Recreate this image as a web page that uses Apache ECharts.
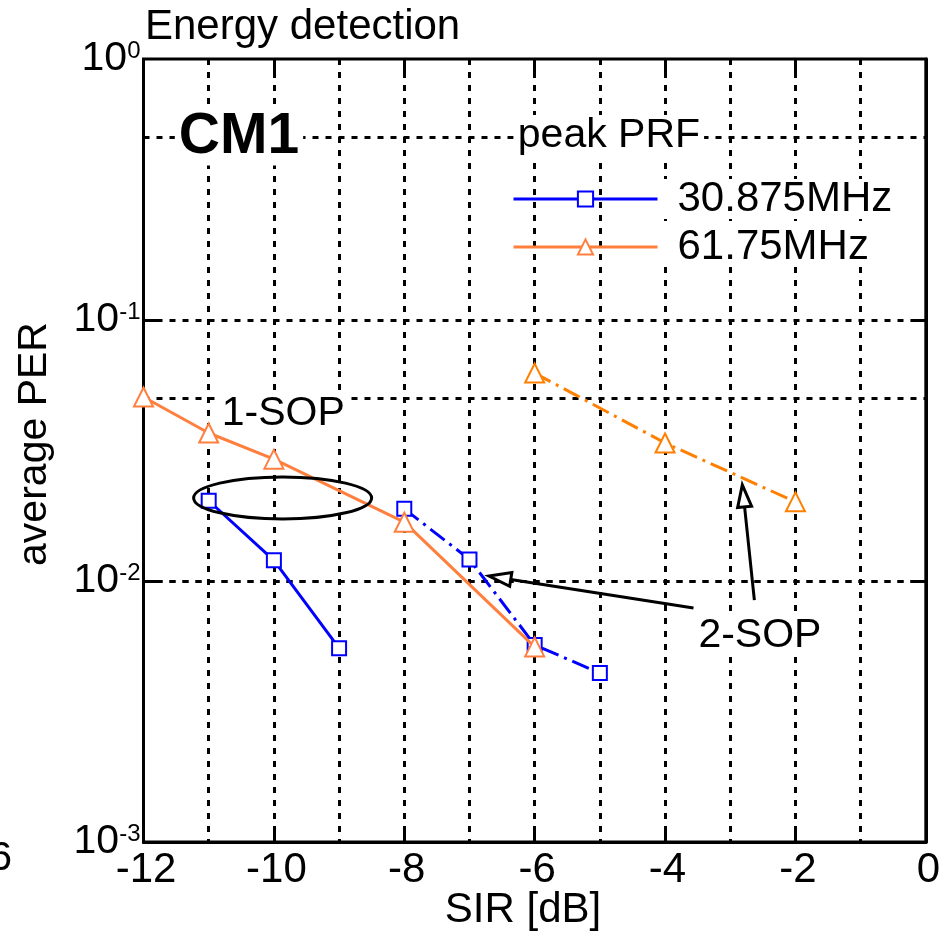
<!DOCTYPE html>
<html><head><meta charset="utf-8">
<script src="https://cdn.jsdelivr.net/npm/echarts@6/dist/echarts.min.js"></script>
<style>html,body{margin:0;padding:0;background:#fff}#c{width:943px;height:935px}</style>
</head><body><div id="c"></div>
<script>
// ---- data ----
const sirBlue1 = [-11, -10, -9];
const perBlue1 = [0.0203, 0.0120, 0.00553];
const sirBlue2 = [-8, -7, -6, -5];
const perBlue2 = [0.0189, 0.0121, 0.00569, 0.00444];
const sirOrange1 = [-12, -11, -10, -8, -6];
const perOrange1 = [0.0507, 0.0369, 0.0293, 0.0168, 0.00559];
const sirOrange2 = [-6, -4, -2];
const perOrange2 = [0.0626, 0.0338, 0.0201];
const legendNames = ['30.875MHz', '61.75MHz'];
const xTickValues = [-10, -8, -6, -4, -2];
const yTickValues = [1, 0.1, 0.01, 0.001];
const yTickSup = ['0', '-1', '-2', '-3'];
const yInnerTicks = [0.1, 0.01];
const yGridValues = [0.5, 0.1, 0.05, 0.01, 0.005];

const FONT = '"Liberation Sans", Arial, Helvetica, sans-serif';
const BLUE = '#0000FF', ORANGE1 = '#FF7F3F', ORANGE2 = '#FF8000';
const dotted = {color: '#000', width: 3, type: [6, 7]};
const dashDot = [18, 6, 3, 6];
const TICK = 15;

const zip = (xs, ys) => xs.map((x, i) => [x, ys[i]]);
const chart = echarts.init(document.getElementById('c'), null, {renderer: 'canvas'});

function supLabel(v) {
  let idx = 0, best = Infinity;
  yTickValues.forEach((t, i) => { const d = Math.abs(Math.log10(t) - Math.log10(v)); if (d < best) { best = d; idx = i; } });
  return '{b|10}{s|' + yTickSup[idx] + '}';
}

const option = {
  backgroundColor: '#fff',
  animation: false,
  textStyle: {fontFamily: FONT},
  grid: {left: 143.5, right: 15, top: 59, bottom: 93, show: true, borderColor: '#000', borderWidth: 3, containLabel: false},
  xAxis: {
    type: 'value', min: -12, max: 0, interval: 2, position: 'bottom',
    axisLine: {show: true, lineStyle: {color: '#000', width: 3}},
    axisTick: {show: false},
    axisLabel: {show: true, fontSize: 42, fontFamily: FONT, color: '#000', margin: 7, padding: [0, 0, 0, 5]},
    splitLine: {show: true, lineStyle: dotted},
    minorTick: {show: false, splitNumber: 2},
    minorSplitLine: {show: true, lineStyle: dotted}
  },
  yAxis: {
    type: 'log', logBase: 10, min: 0.001, max: 1, position: 'left',
    axisLine: {show: true, lineStyle: {color: '#000', width: 3}},
    axisTick: {show: false},
    axisLabel: {
      show: true, margin: 3, formatter: supLabel,
      rich: {
        b: {fontSize: 41, fontFamily: FONT, color: '#000', lineHeight: 40},
        s: {fontSize: 24, fontFamily: FONT, color: '#000', lineHeight: 24, verticalAlign: 'top'}
      }
    },
    splitLine: {show: false}
  },
  legend: {
    data: legendNames, orient: 'vertical', left: 512, top: 178, padding: 0,
    itemWidth: 144, itemHeight: 19, itemGap: 6, selectedMode: false,
    lineStyle: {width: 3},
    itemStyle: {borderWidth: 3},
    textStyle: {fontSize: 42, fontFamily: FONT, color: '#000', lineHeight: 40, padding: [0, 4, 0, 15], backgroundColor: '#fff'}
  },
  series: [
    {
      name: legendNames[0], type: 'line',
      data: zip(sirBlue1, perBlue1), symbol: 'emptyRect', symbolSize: 14,
      lineStyle: {color: BLUE, width: 3}, itemStyle: {color: BLUE, borderWidth: 3},
      z: 3,
      markLine: {
        silent: true, symbol: ['none', 'none'], label: {show: false},
        lineStyle: dotted, z: 1,
        data: yGridValues.map(v => ({yAxis: v}))
      }
    },
    {
      name: 'blue-2SOP', type: 'line', data: zip(sirBlue2, perBlue2), symbol: 'emptyRect', symbolSize: 14,
      lineStyle: {color: BLUE, width: 3, type: dashDot}, itemStyle: {color: BLUE, borderWidth: 3}, z: 3
    },
    {
      name: legendNames[1], type: 'line', data: zip(sirOrange1, perOrange1), symbol: 'emptyTriangle', symbolSize: 19,
      lineStyle: {color: ORANGE1, width: 3}, itemStyle: {color: ORANGE1, borderWidth: 3}, z: 4
    },
    {
      name: 'orange-2SOP', type: 'line', data: zip(sirOrange2, perOrange2), symbol: 'emptyTriangle', symbolSize: 19,
      lineStyle: {color: ORANGE2, width: 3, type: dashDot}, itemStyle: {color: ORANGE2, borderWidth: 3}, z: 4
    }
  ]
};
chart.setOption(option);

// ---- inward tick marks on all four sides, through the axis scales ----
const px = (x, y) => chart.convertToPixel({gridIndex: 0}, [x, y]);
const fromPx = (p) => chart.convertFromPixel({gridIndex: 0}, p);
const c0 = px(-12, 0.001), c1 = px(0, 1);
const yUp = fromPx([c0[0], c0[1] - TICK])[1];
const yDown = fromPx([c0[0], c1[1] + TICK])[1];
const xRightOfLeft = fromPx([c0[0] + TICK, c0[1]])[0];
const xLeftOfRight = fromPx([c1[0] - TICK, c0[1]])[0];
const tickPairs = [];
xTickValues.forEach(x => {
  tickPairs.push([{coord: [x, 0.001]}, {coord: [x, yUp]}]);
  tickPairs.push([{coord: [x, 1]}, {coord: [x, yDown]}]);
});
yInnerTicks.forEach(v => {
  tickPairs.push([{coord: [-12, v]}, {coord: [xRightOfLeft, v]}]);
  tickPairs.push([{coord: [0, v]}, {coord: [xLeftOfRight, v]}]);
});
chart.setOption({series: [{}, {markLine: {silent: true, symbol: ['none', 'none'], label: {show: false},
  lineStyle: {color: '#000', width: 3, type: 'solid'}, z: 2, data: tickPairs}}]});

// ---- annotations anchored in data coordinates ----
const ellipseCenter = [-9.866, 0.0208];
const arrows = [
  {from: [-3.564, 0.00788], to: [-6.70, 0.01045]},
  {from: [-2.63, 0.00845], to: [-2.815, 0.02333]}
];
const texts = [
  {t: '1-SOP', at: [-10.86, 0.0438], size: 41, weight: 'normal'},
  {t: '2-SOP', at: [-3.55, 0.00618], size: 41, weight: 'normal'},
  {t: 'CM1', at: [-11.52, 0.503], size: 57, weight: 'bold'},
  {t: 'peak PRF', at: [-6.32, 0.509], size: 41, weight: 'normal'}
];

const g = [];
const ec = px(ellipseCenter[0], ellipseCenter[1]);
g.push({type: 'ellipse', shape: {cx: ec[0], cy: ec[1], rx: 89, ry: 21}, style: {fill: 'none', stroke: '#000', lineWidth: 3}, z: 10});
arrows.forEach(a => {
  const s = px(a.from[0], a.from[1]), e = px(a.to[0], a.to[1]);
  const dx = e[0] - s[0], dy = e[1] - s[1], len = Math.hypot(dx, dy);
  const ux = dx / len, uy = dy / len, nx = -uy, ny = ux;
  const L = 22, W = 7;
  const bx = e[0] - ux * L, by = e[1] - uy * L;
  g.push({type: 'line', shape: {x1: s[0], y1: s[1], x2: bx, y2: by}, style: {stroke: '#000', lineWidth: 3}, z: 10});
  g.push({type: 'polygon', shape: {points: [[e[0], e[1]], [bx + nx * W, by + ny * W], [bx - nx * W, by - ny * W]]},
          style: {fill: '#fff', stroke: '#000', lineWidth: 3, lineJoin: 'miter'}, z: 10});
});
texts.forEach(o => {
  const p = px(o.at[0], o.at[1]);
  g.push({type: 'text', x: p[0], y: p[1], z: 11,
    style: {text: o.t, font: o.weight + ' ' + o.size + 'px ' + FONT, fill: '#000', align: 'left', verticalAlign: 'middle',
            backgroundColor: '#fff', padding: [0, 4, 0, 4]}});
});
// titles / axis names
g.push({type: 'text', x: 145, y: 27, z: 11, style: {text: 'Energy detection', font: '42px ' + FONT, fill: '#000', align: 'left', verticalAlign: 'middle'}});
g.push({type: 'text', x: 523, y: 910, z: 11, style: {text: 'SIR [dB]', font: '42px ' + FONT, fill: '#000', align: 'center', verticalAlign: 'middle'}});
g.push({type: 'text', x: 35, y: 444, rotation: Math.PI / 2, z: 11, style: {text: 'average PER', font: '41px ' + FONT, fill: '#000', align: 'center', verticalAlign: 'middle'}});
g.push({type: 'text', x: 12, y: 859, z: 11, style: {text: '6', font: '41px ' + FONT, fill: '#000', align: 'right', verticalAlign: 'middle'}});
chart.setOption({graphic: g});
</script>
</body></html>
